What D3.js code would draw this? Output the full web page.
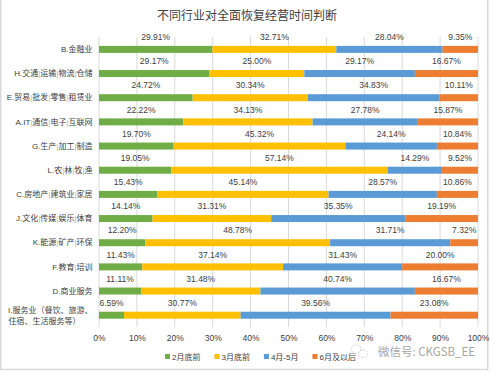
<!DOCTYPE html>
<html>
<head>
<meta charset="utf-8">
<script src="https://cdn.jsdelivr.net/npm/d3@7"></script>
<style>
  html, body { margin: 0; padding: 0; background: #fff; }
  svg { display: block; }
  text { font-family: "Liberation Sans", "Noto Sans CJK SC", sans-serif; }
</style>
</head>
<body>
<svg id="chart" width="495" height="372"></svg>
<script>
const title = "不同行业对全面恢复经营时间判断";
const categories = [
  "B.金融业",
  "H.交通|运输|物流|仓储",
  "E.贸易|批发|零售|租赁业",
  "A.IT|通信|电子|互联网",
  "G.生产|加工|制造",
  "L.农|林|牧|渔",
  "C.房地产|建筑业|家居",
  "J.文化|传媒|娱乐|体育",
  "K.能源|矿产|环保",
  "F.教育|培训",
  "D.商业服务",
  "I.服务业（餐饮、旅游、\n住宿、生活服务等）"
];
const seriesNames = ["2月底前", "3月底前", "4月-5月", "6月及以后"];
const febEnd   = [29.91, 29.17, 24.72, 22.22, 19.70, 19.05, 15.43, 14.14, 12.20, 11.43, 11.11, 6.59];
const marEnd   = [32.71, 25.00, 30.34, 34.13, 45.32, 57.14, 45.14, 31.31, 48.78, 37.14, 31.48, 30.77];
const aprMay   = [28.04, 29.17, 34.83, 27.78, 24.14, 14.29, 28.57, 35.35, 31.71, 31.43, 40.74, 39.56];
const junLater = [9.35, 16.67, 10.11, 15.87, 10.84, 9.52, 10.86, 19.19, 7.32, 20.00, 16.67, 23.08];
const xTicks = [0, 10, 20, 30, 40, 50, 60, 70, 80, 90, 100];
const colors = ["#70AD47", "#FFC000", "#5B9BD5", "#ED7D31"];
const watermark = "微信号: CKGSB_EE";

const svg = d3.select("#chart");
const textColor = "#404040";

// border
svg.append("rect").attr("x", 0.75).attr("y", -2).attr("width", 487).attr("height", 371.5)
  .attr("fill", "none").attr("stroke", "#d9d9d9").attr("stroke-width", 1.5);

// title
svg.append("text").attr("x", 247).attr("y", 19.5).attr("text-anchor", "middle")
  .attr("font-size", 12).attr("fill", textColor)
  .style("font-family", "'Noto Sans CJK SC', sans-serif").text(title);

const x = d3.scaleLinear().domain([0, 100]).range([99, 478]);
const y = d3.scaleBand().domain(categories).range([37, 327]);
const barH = 7;

// gridlines
svg.append("g").selectAll("line").data(xTicks).join("line")
  .attr("x1", d => x(d)).attr("x2", d => x(d))
  .attr("y1", 37).attr("y2", 327)
  .attr("stroke", "#d9d9d9").attr("stroke-width", 1);

// axis tick labels
const xAxis = d3.axisBottom(x).tickValues(xTicks).tickFormat(d => d + "%").tickSize(0).tickPadding(0);
const gx = svg.append("g").attr("transform", "translate(0,340.5)").call(xAxis);
gx.select(".domain").remove();
gx.selectAll("text").attr("font-size", 8.5).attr("fill", textColor).attr("dy", 0)
  .style("font-family", "'Liberation Sans', sans-serif");

// stacked data
const series = [febEnd, marEnd, aprMay, junLater];
const rows = categories.map((c, i) => {
  let acc = 0;
  return series.map((s, k) => {
    const seg = { cat: c, k, v: s[i], x0: acc, x1: acc + s[i] };
    acc += s[i];
    return seg;
  });
}).flat();

const cy = c => y(c) + y.bandwidth() / 2;

svg.append("g").selectAll("rect").data(rows).join("rect")
  .attr("x", d => x(d.x0))
  .attr("width", d => Math.max(0, x(Math.min(d.x1, 100)) - x(d.x0)))
  .attr("y", d => cy(d.cat) - barH / 2 + 0.3)
  .attr("height", barH)
  .attr("fill", d => colors[d.k]);

// data labels
svg.append("g").selectAll("text").data(rows).join("text")
  .attr("x", d => x((d.x0 + d.x1) / 2))
  .attr("y", d => cy(d.cat) - 9)
  .attr("text-anchor", "middle")
  .attr("font-size", 8.5)
  .attr("fill", textColor)
  .text(d => d.v.toFixed(2) + "%");

// category labels
const catG = svg.append("g");
categories.forEach(c => {
  const lines = c.split("\n");
  if (lines.length === 1) {
    const t = catG.append("text").attr("x", 92.5).attr("y", cy(c) + 3)
      .attr("text-anchor", "end").attr("font-size", 8).attr("fill", textColor);
    const parts = c.split("|");
    parts.forEach((p, j) => {
      if (j > 0) t.append("tspan").attr("fill", "#b0b0b0").text("|");
      t.append("tspan").text(p);
    });
  } else {
    catG.append("text").attr("x", 92.5).attr("y", cy(c) - 2)
      .attr("text-anchor", "end").attr("font-size", 8).attr("fill", textColor).text(lines[0]);
    catG.append("text").attr("x", 8.5).attr("y", cy(c) + 9)
      .attr("text-anchor", "start").attr("font-size", 8).attr("fill", textColor).text(lines[1]);
  }
});

// legend
const legend = svg.append("g");
let lx = 165;
seriesNames.forEach((n, k) => {
  legend.append("rect").attr("x", lx).attr("y", 354).attr("width", 5).attr("height", 5).attr("fill", colors[k]);
  const t = legend.append("text").attr("x", lx + 7).attr("y", 359.5).attr("font-size", 8).attr("fill", textColor).text(n);
  lx += 7 + t.node().getComputedTextLength() + 14;
});

// watermark
const wm = svg.append("g").attr("opacity", 0.55);
wm.append("ellipse").attr("cx", 356).attr("cy", 349).attr("rx", 5).attr("ry", 4.2)
  .attr("fill", "none").attr("stroke", "#999").attr("stroke-width", 0.8).attr("stroke-dasharray", "2,1.2");
wm.append("ellipse").attr("cx", 363).attr("cy", 353.5).attr("rx", 4.6).attr("ry", 3.8)
  .attr("fill", "none").attr("stroke", "#999").attr("stroke-width", 0.8).attr("stroke-dasharray", "2,1.2");
svg.append("text").attr("x", 378).attr("y", 356).attr("font-size", 11.5).attr("fill", "#a6a6a6")
  .style("font-family", "'Noto Sans CJK SC', 'Liberation Sans', sans-serif").text(watermark);
</script>
</body>
</html>
